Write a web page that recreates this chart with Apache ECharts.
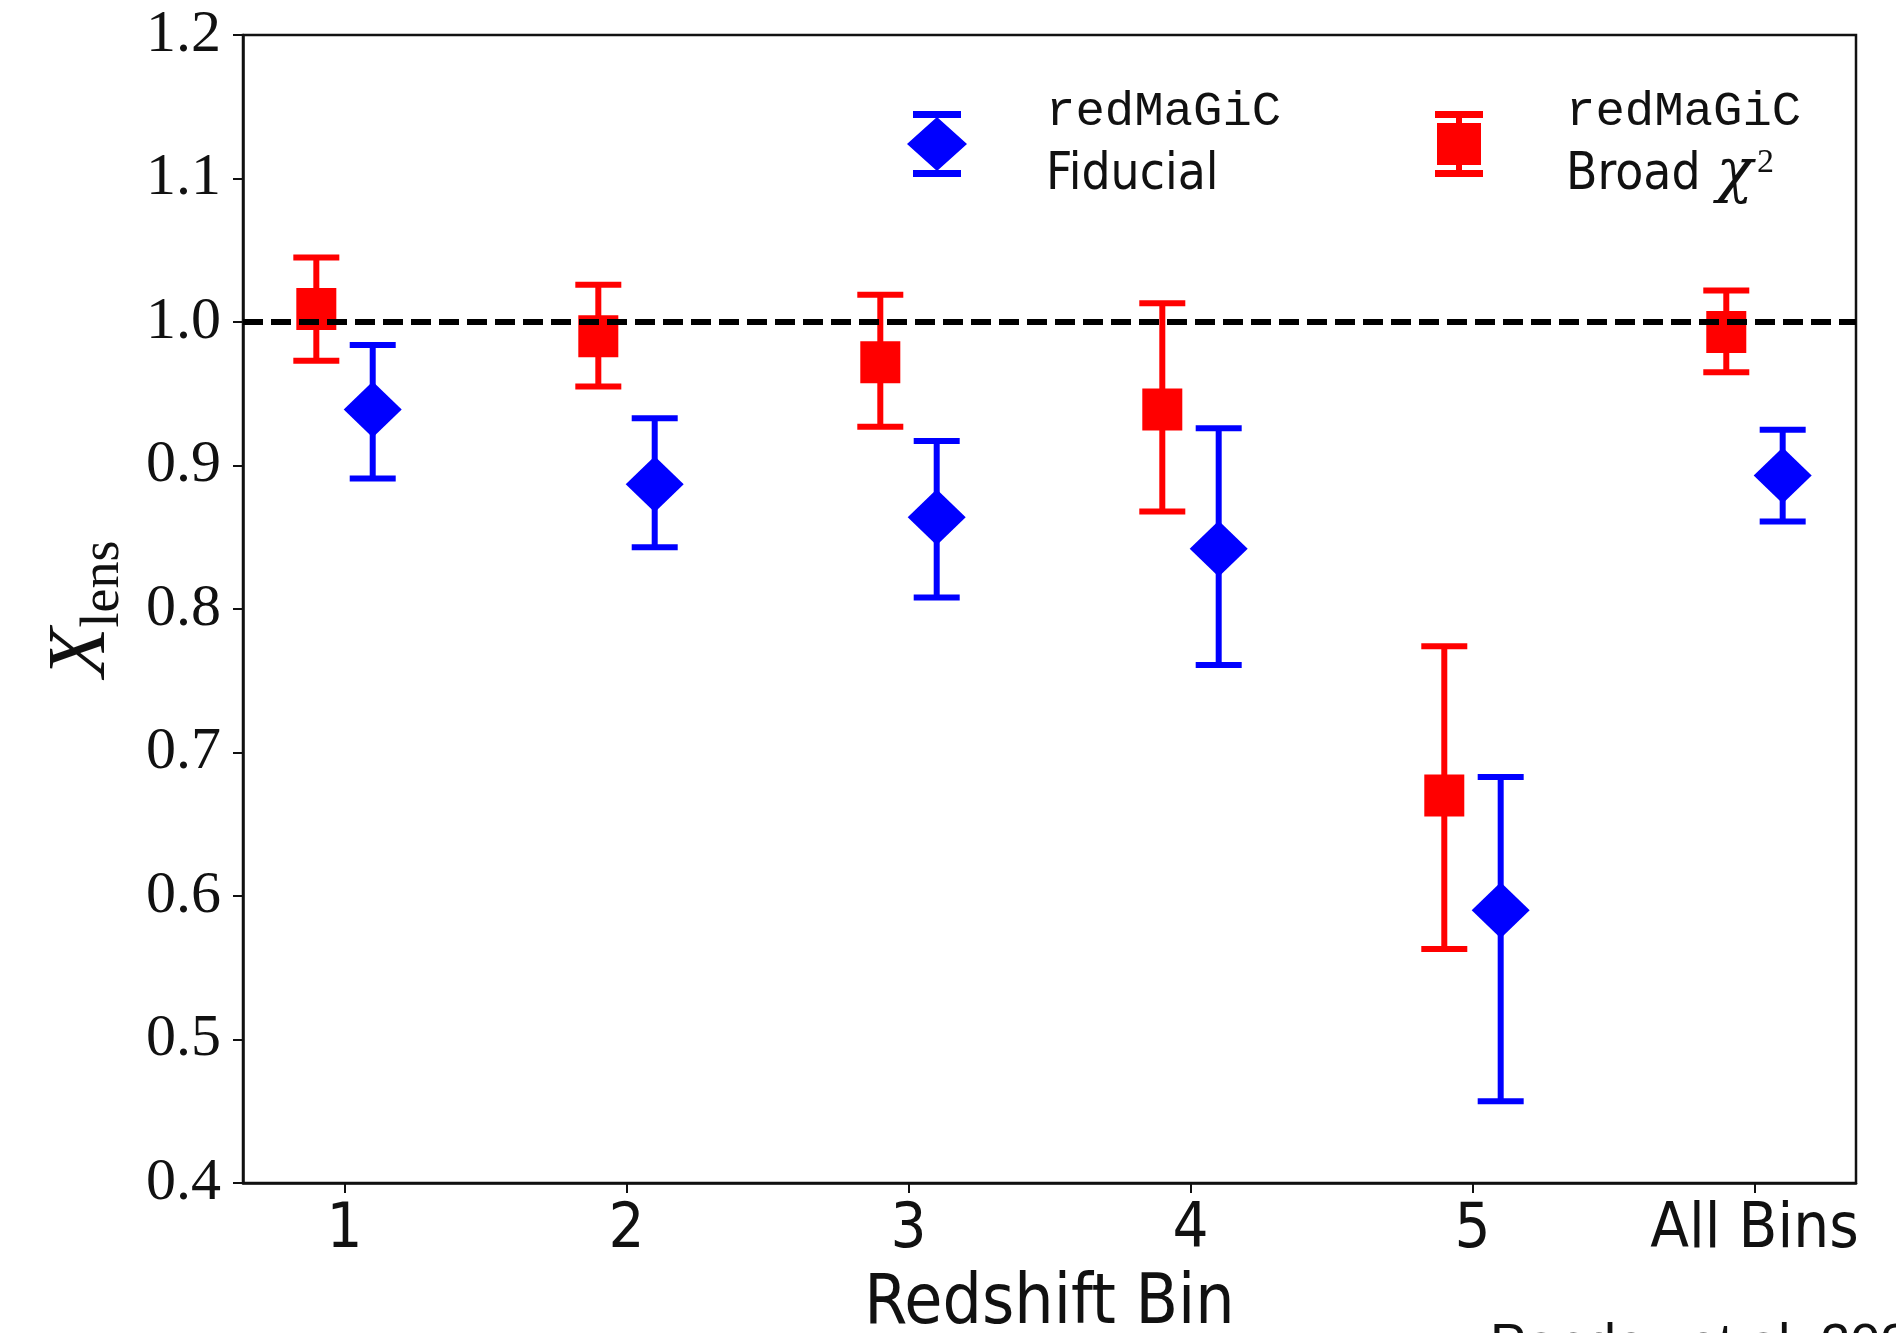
<!DOCTYPE html>
<html>
<head>
<meta charset="utf-8">
<title>X_lens per redshift bin</title>
<script src="https://cdn.jsdelivr.net/npm/echarts@6/dist/echarts.min.js"></script>
<style>
  html, body { margin: 0; padding: 0; background: #ffffff; }
  #chart { width: 1896px; height: 1333px; }
</style>
</head>
<body>
<div id="chart"></div>
<script>
// Redshift bins along the x axis
const binLabels = ['1', '2', '3', '4', '5', 'All Bins'];
const binPositions = [1, 2, 3, 4, 5, 6];

// redMaGiC fiducial: best fit and 1-sigma bounds
const fiducialValue = [0.939, 0.887, 0.864, 0.842, 0.590, 0.893];
const fiducialUpper = [0.984, 0.933, 0.917, 0.926, 0.683, 0.925];
const fiducialLower = [0.891, 0.843, 0.808, 0.761, 0.457, 0.861];

// redMaGiC broad chi^2: best fit and 1-sigma bounds
const broadValue = [1.009, 0.990, 0.972, 0.939, 0.670, 0.993];
const broadUpper = [1.045, 1.026, 1.019, 1.013, 0.774, 1.022];
const broadLower = [0.973, 0.955, 0.927, 0.868, 0.563, 0.965];

// y tick values and the X_lens = 1 reference level
const yTicks = [0.4, 0.5, 0.6, 0.7, 0.8, 0.9, 1.0, 1.1, 1.2];
const referenceLevel = 1.0;

// horizontal dodge between the two samples inside a bin
const dodge = 0.1;

const RED = '#ff0000';
const BLUE = '#0000ff';
const SANS = '"DejaVu Sans Condensed", "Liberation Sans Narrow", "DejaVu Sans", sans-serif';
const SERIF = '"Liberation Serif", "DejaVu Serif", serif';
const MONO = '"Liberation Mono", "DejaVu Sans Mono", monospace';

const fiducialPoints = binPositions.map((p, i) => [p + dodge, fiducialValue[i]]);
const broadPoints = binPositions.map((p, i) => [p - dodge, broadValue[i]]);
const fiducialBars = binPositions.map((p, i) => [p + dodge, fiducialLower[i], fiducialUpper[i]]);
const broadBars = binPositions.map((p, i) => [p - dodge, broadLower[i], broadUpper[i]]);

// vertical error bar with caps at both ends
function errorBar(color) {
  return function (params, api) {
    const x = api.value(0);
    const lo = api.coord([x, api.value(1)]);
    const hi = api.coord([x, api.value(2)]);
    const half = 23;
    const style = { stroke: color, lineWidth: 6, lineCap: 'butt' };
    return {
      type: 'group',
      children: [
        { type: 'line', shape: { x1: lo[0], y1: lo[1], x2: hi[0], y2: hi[1] }, style: style },
        { type: 'line', shape: { x1: lo[0] - half, y1: lo[1], x2: lo[0] + half, y2: lo[1] }, style: style },
        { type: 'line', shape: { x1: hi[0] - half, y1: hi[1], x2: hi[0] + half, y2: hi[1] }, style: style }
      ]
    };
  };
}

// legend glyphs: marker with capped error bar
const diamondIcon = 'path://M6,0L54,0L54,7L31.1,7L60,33L31.1,59L54,59L54,66L6,66L6,59L28.9,59L0,33L28.9,7L6,7Z';
const squareIcon = 'path://M0,0L48,0L48,7L27,7L27,12L46,12L46,54L27,54L27,59L48,59L48,66L0,66L0,59L21,59L21,54L2,54L2,12L21,12L21,7L0,7Z';

const LINE = 63;
const legendRich = {
  m: { fontFamily: MONO, fontSize: 49, lineHeight: LINE, color: '#111' },
  s: { fontFamily: SANS, fontSize: 51, lineHeight: LINE, color: '#111' },
  chi: { fontFamily: '"DejaVu Serif", serif', fontStyle: 'italic', fontSize: 60, lineHeight: LINE, padding: [0, 0, 0, 16], color: '#111' },
  sup: { fontFamily: SERIF, fontSize: 34, lineHeight: LINE, verticalAlign: 'top', padding: [2, 0, 0, 4], color: '#111' }
};

const chart = echarts.init(document.getElementById('chart'), null, { renderer: 'canvas' });

chart.setOption({
  backgroundColor: '#ffffff',
  animation: false,
  grid: {
    left: 243, right: 40, top: 35, bottom: 150,
    containLabel: false,
    outerBoundsMode: 'none',
    show: true, borderColor: '#111', borderWidth: 2.5, backgroundColor: 'transparent'
  },
  legend: [
    {
      left: 907, top: 88, padding: 0,
      itemWidth: 60, itemHeight: 66,
      selectedMode: false,
      data: [{ name: 'redMaGiC Fiducial', icon: diamondIcon, itemStyle: { color: BLUE } }],
      formatter: () => '{g| }{m|redMaGiC}\n{g| }{s|Fiducial}',
      textStyle: { rich: Object.assign({ g: { width: 74, lineHeight: LINE } }, legendRich) }
    },
    {
      left: 1435, top: 88, padding: 0,
      itemWidth: 48, itemHeight: 66,
      selectedMode: false,
      data: [{ name: 'redMaGiC Broad χ²', icon: squareIcon, itemStyle: { color: RED } }],
      formatter: () => '{g| }{m|redMaGiC}\n{g| }{s|Broad}{chi|χ}{sup|2}',
      textStyle: { rich: Object.assign({ g: { width: 78, lineHeight: LINE } }, legendRich) }
    }
  ],
  xAxis: {
    type: 'value',
    min: 0.64,
    max: 6.36,
    name: 'Redshift Bin',
    nameLocation: 'middle',
    nameGap: 88,
    nameTextStyle: { fontFamily: SANS, fontSize: 69, color: '#111' },
    axisLine: { lineStyle: { color: '#111', width: 2.5 } },
    axisTick: {
      show: true, inside: false, length: 10,
      customValues: binPositions,
      lineStyle: { color: '#111', width: 2 }
    },
    axisLabel: {
      customValues: binPositions,
      margin: 16,
      fontFamily: SANS, fontSize: 63, color: '#111',
      formatter: (v) => binLabels[binPositions.indexOf(Math.round(v))] || ''
    },
    splitLine: { show: false }
  },
  yAxis: {
    type: 'value',
    min: 0.4,
    max: 1.2,
    interval: 0.1,
    name: '{x|X}{s|lens}',
    nameLocation: 'middle',
    nameRotate: 90,
    nameGap: 112,
    nameTextStyle: {
      rich: {
        x: { fontFamily: SERIF, fontStyle: 'italic', fontSize: 82, verticalAlign: 'bottom', padding: [0, 0, 8, 0], color: '#111' },
        s: { fontFamily: SERIF, fontSize: 54, verticalAlign: 'bottom', color: '#111' }
      }
    },
    axisLine: { show: true, lineStyle: { color: '#111', width: 2.5 } },
    axisTick: { show: true, inside: false, length: 10, lineStyle: { color: '#111', width: 2 } },
    axisLabel: {
      margin: 22,
      fontFamily: SERIF, fontSize: 60, color: '#111',
      customValues: yTicks,
      formatter: (v) => v.toFixed(1)
    },
    splitLine: { show: false }
  },
  series: [
    {
      name: 'reference level',
      type: 'line',
      data: [],
      z: 1,
      silent: true,
      markLine: {
        silent: true,
        symbol: ['none', 'none'],
        label: { show: false },
        lineStyle: { color: '#000', width: 6, type: [20, 8] },
        data: [{ yAxis: referenceLevel }]
      }
    },
    {
      name: 'broad bars',
      type: 'custom',
      z: 2,
      renderItem: errorBar(RED),
      encode: { x: 0, y: [1, 2] },
      data: broadBars
    },
    {
      name: 'redMaGiC Broad χ²',
      type: 'scatter',
      z: 3,
      symbol: 'rect',
      symbolSize: [40, 42],
      itemStyle: { color: RED, opacity: 1 },
      data: broadPoints
    },
    {
      name: 'fiducial bars',
      type: 'custom',
      z: 2,
      renderItem: errorBar(BLUE),
      encode: { x: 0, y: [1, 2] },
      data: fiducialBars
    },
    {
      name: 'redMaGiC Fiducial',
      type: 'scatter',
      z: 3,
      symbol: 'diamond',
      symbolSize: [58, 56],
      itemStyle: { color: BLUE, opacity: 1 },
      data: fiducialPoints
    }
  ],
  graphic: [
    {
      type: 'text',
      left: 1490,
      top: 1319,
      silent: true,
      style: { text: 'Pandey et al. 2022', font: '54px "Liberation Sans", Arial, sans-serif', fill: '#111' }
    }
  ]
});
</script>
</body>
</html>
